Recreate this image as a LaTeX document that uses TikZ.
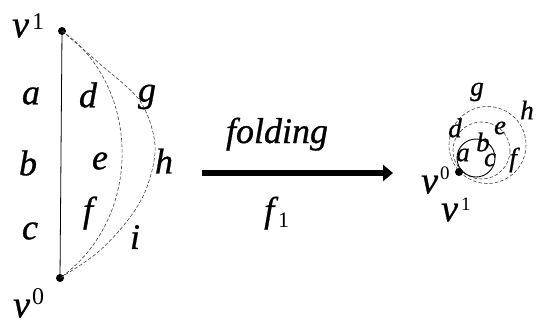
\documentclass[tikz,border=0pt]{standalone}
\usepackage{fontspec}
\setmainfont{Liberation Serif}[ItalicFeatures={FakeBold=0.7}]
\usetikzlibrary{arrows.meta}
\begin{document}
\begin{tikzpicture}[x=1pt,y=-1pt,
  dot/.style={circle,fill=black,inner sep=0pt,minimum size=8pt},
  big/.style={font=\fontsize{36}{40}\selectfont\itshape, inner sep=0pt},
  vlab/.style={font=\fontsize{38}{40}\selectfont\itshape, inner sep=0pt, anchor=base west},
  small/.style={font=\fontsize{27}{30}\selectfont\itshape, inner sep=0pt},
  dline/.style={dash pattern=on 3.5pt off 2pt, line width=0.6pt, black!75}]
\useasboundingbox (0,0) rectangle (544,322);
% left figure
\node[dot] (v1) at (62,31) {};
\node[dot] (v0) at (60,278) {};
\draw[line width=0.8pt] (v1.center) -- (v0.center);
\draw[dline] (v1.center) .. controls (140,85) and (145,217) .. (v0.center);
\draw[dline] plot[smooth, tension=0.55] coordinates {(v1.center) (100,64) (140,101) (155,145) (147,187) (128,220) (97,253) (v0.center)};
\node[vlab] (lv1) at (12,37) {v\hspace{3pt}\raisebox{8pt}{\fontsize{24}{24}\selectfont\upshape 1}};
\node[vlab] (lv0) at (13,317) {v\hspace{2pt}\raisebox{13pt}{\fontsize{24}{24}\selectfont\upshape 0}};
\node[big] (la) at (31,96) {a};
\node[big] (lb) at (28,163) {b};
\node[big] (lc) at (30,231) {c};
\node[big] (ld) at (88,95) {d};
\node[big] (le) at (100,161) {e};
\node[big] (lf) at (88,213) {f};
\node[big] (lg) at (147,97) {g};
\node[big] (lh) at (164,161) {h};
\node[big] (li) at (135,237) {i};
% arrow
\coordinate (as) at (202,173);
\coordinate (ae) at (393,173);
\draw[line width=6pt, -{Triangle[length=10pt,width=16pt]}] (as) -- (ae);
\node[big, anchor=base] (fold) at (277,143) {folding};
\node[big, anchor=base west] (f1) at (264,222) {f\hspace{4pt}\raisebox{-5pt}{\fontsize{22}{22}\selectfont\upshape 1}};
% right figure
\draw[dline] (487.5,145) circle[radius=38.5];
\draw[dline] (481.5,150.5) circle[radius=28.5];
\draw[line width=0.9pt] (476,158) circle[radius=19];
\node[dot] (w) at (459,172) {};
\node[small] (ra) at (463,155) {a};
\node[small] (rb) at (483,142) {b};
\node[small] (rc) at (490,160) {c};
\node[small] (rd) at (455,128) {d};
\node[small] (re) at (500,128) {e};
\node[small] (rf) at (513,160) {f};
\node[small] (rg) at (477,92) {g};
\node[small] (rh) at (527,110) {h};
\node[small] (ri) at (547,155) {i};
\node[vlab] (rv0) at (421,193) {v\hspace{2pt}\raisebox{14pt}{\fontsize{19}{19}\selectfont\upshape 0}};
\node[vlab] (rv1) at (441,221) {v\hspace{3pt}\raisebox{11pt}{\fontsize{19}{19}\selectfont\upshape 1}};
\end{tikzpicture}
\end{document}
